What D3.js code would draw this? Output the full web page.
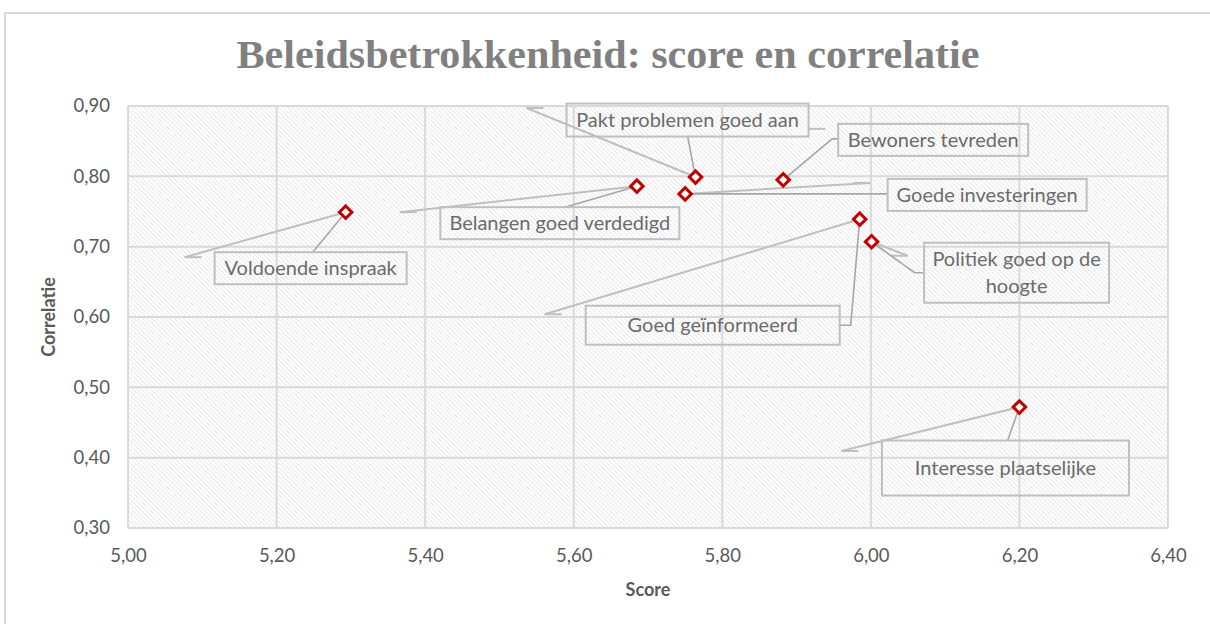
<!DOCTYPE html>
<html>
<head>
<meta charset="utf-8">
<script src="https://cdn.jsdelivr.net/npm/d3@7"></script>
<style>
  html, body { margin: 0; padding: 0; background: #fff; }
  svg { display: block; }
</style>
</head>
<body>
<svg id="chart" width="1210" height="624"></svg>
<script>
// Indicator names, scores and correlations
const names = [
  "Voldoende inspraak",
  "Belangen goed verdedigd",
  "Goede investeringen",
  "Pakt problemen goed aan",
  "Bewoners tevreden",
  "Goed geïnformeerd",
  "Politiek goed op de hoogte",
  "Interesse plaatselijke"
];
const scores       = [5.293, 5.685, 5.750, 5.764, 5.882, 5.985, 6.001, 6.200];
const correlations = [0.749, 0.786, 0.775, 0.799, 0.795, 0.739, 0.707, 0.472];

const xTicks = [5.0, 5.2, 5.4, 5.6, 5.8, 6.0, 6.2, 6.4];
const yTicks = [0.3, 0.4, 0.5, 0.6, 0.7, 0.8, 0.9];

// Label placement (pixel offsets from each marker): box centre, box size,
// leader route and the stray callout stub left behind by the label editor.
const labelLayout = [
  { box: [-35, 56],  size: [192, 32], lines: ["Voldoende inspraak"], leader: [[-33, 40]], stub: [-161, 45], stubDir: 1 },
  { box: [-77, 37],  size: [239, 32], lines: ["Belangen goed verdedigd"], leader: [[-72, 21]], stub: [-237, 26], stubDir: 1 },
  { box: [302, 1],   size: [199, 32], lines: ["Goede investeringen"], leader: [[203, 0]], stub: [185, -11], stubDir: -1 },
  { box: [-8, -57],  size: [242, 33], lines: ["Pakt problemen goed aan"], leader: [[-8, -41]], stub: [-169, -69], stubDir: 1 },
  { box: [150, -40], size: [190, 32], lines: ["Bewoners tevreden"], leader: [[49, -41], [55, -41]], stub: [42, -51], stubDir: -1, stubOnly: true },
  { box: [-147, 106],size: [254, 39], lines: ["Goed geïnformeerd"], leader: [[-9, 106], [-20, 106]], stub: [-315, 95], stubDir: 1 },
  { box: [145, 31],  size: [185, 60], lines: ["Politiek goed op de", "hoogte"], leader: [[43, 31], [53, 31]], stub: [36, 14], stubDir: -1 },
  { box: [-14, 61],  size: [247, 55], lines: ["Interesse plaatselijke"], leader: [[-12, 34]], stub: [-178, 44], stubDir: 1 }
];

const svg = d3.select("#chart");
const W = 1210, H = 624;
const margin = { left: 128, right: 1210 - 1168, top: 106, bottom: 624 - 528 };

const fmt = v => d3.format(".2f")(v).replace(".", ",");

// Outer chart frame
svg.append("rect")
  .attr("x", 5).attr("y", 13)
  .attr("width", W + 10).attr("height", H + 10)
  .attr("fill", "#fff")
  .attr("stroke", "#d9d9d9").attr("stroke-width", 2);

// Diagonal hatch fill for the plot area
const defs = svg.append("defs");
const pat = defs.append("pattern")
  .attr("id", "hatch")
  .attr("patternUnits", "userSpaceOnUse")
  .attr("width", 4.5).attr("height", 4.5);
pat.append("rect").attr("width", 4.5).attr("height", 4.5).attr("fill", "#fff");
pat.append("path")
  .attr("d", "M-1,3.5 L1,5.5 M0,0 L4.5,4.5 M3.5,-1 L5.5,1")
  .attr("stroke", "#dcdcdc").attr("stroke-width", 0.9);

const x = d3.scaleLinear().domain([5.0, 6.4]).range([margin.left, W - margin.right]);
const y = d3.scaleLinear().domain([0.3, 0.9]).range([H - margin.bottom, margin.top]);

// Title
svg.append("text")
  .attr("x", 608).attr("y", 68)
  .attr("text-anchor", "middle")
  .attr("font-family", "'Liberation Serif', 'DejaVu Serif', serif")
  .attr("font-weight", "bold")
  .attr("font-size", 39)
  .attr("fill", "#808080")
  .attr("textLength", 743)
  .attr("lengthAdjust", "spacingAndGlyphs")
  .text("Beleidsbetrokkenheid: score en correlatie");

// Plot background
svg.append("rect")
  .attr("x", x(5.0)).attr("y", y(0.9))
  .attr("width", x(6.4) - x(5.0)).attr("height", y(0.3) - y(0.9))
  .attr("fill", "url(#hatch)");

// Gridlines
const grid = svg.append("g").attr("stroke", "#d9d9d9").attr("stroke-width", 2);
grid.selectAll(".gx").data(xTicks).join("line")
  .attr("x1", d => x(d)).attr("x2", d => x(d))
  .attr("y1", y(0.9)).attr("y2", y(0.3));
grid.selectAll(".gy").data(yTicks).join("line")
  .attr("x1", x(5.0)).attr("x2", x(6.4))
  .attr("y1", d => y(d)).attr("y2", d => y(d));

// Axes (labels only; lines come from the grid)
const tickFont = "Lato, 'Open Sans', sans-serif";
const xAxis = svg.append("g")
  .attr("transform", `translate(0,${y(0.3)})`)
  .call(d3.axisBottom(x).tickValues(xTicks).tickFormat(fmt).tickSize(0).tickPadding(21));
const yAxis = svg.append("g")
  .attr("transform", `translate(${x(5.0)},0)`)
  .call(d3.axisLeft(y).tickValues(yTicks).tickFormat(fmt).tickSize(0).tickPadding(18));
[xAxis, yAxis].forEach(a => {
  a.select(".domain").remove();
  a.selectAll("text")
    .attr("font-family", tickFont)
    .attr("font-size", 18.5)
    .attr("fill", "#595959");
});

// Axis titles
svg.append("text")
  .attr("x", (x(5.0) + x(6.4)) / 2).attr("y", 596)
  .attr("text-anchor", "middle")
  .attr("font-family", tickFont).attr("font-weight", "bold")
  .attr("font-size", 18).attr("fill", "#595959")
  .text("Score");
svg.append("text")
  .attr("transform", `translate(55,${(y(0.3) + y(0.9)) / 2}) rotate(-90)`)
  .attr("text-anchor", "middle")
  .attr("font-family", tickFont).attr("font-weight", "bold")
  .attr("font-size", 18).attr("fill", "#595959")
  .text("Correlatie");

// Callouts
const pts = names.map((n, i) => ({ name: n, sx: scores[i], sy: correlations[i], lay: labelLayout[i] }));
const lineColor = "#bfbfbf";
const callouts = svg.append("g");

pts.forEach(p => {
  const px = x(p.sx), py = y(p.sy), L = p.lay;
  const g = callouts.append("g");

  // Stray stub line
  const sx = px + L.stub[0], sy = py + L.stub[1];
  if (!L.stubOnly) {
    g.append("line")
      .attr("x1", px).attr("y1", py).attr("x2", sx).attr("y2", sy)
      .attr("stroke", lineColor).attr("stroke-width", 2);
  }
  g.append("line")
    .attr("x1", sx).attr("y1", sy).attr("x2", sx + 17 * L.stubDir).attr("y2", sy)
    .attr("stroke", lineColor).attr("stroke-width", 2);

  // Leader from marker to label box
  const route = [[px, py]].concat(L.leader.map(d => [px + d[0], py + d[1]]));
  g.append("path")
    .attr("d", d3.line()(route))
    .attr("fill", "none")
    .attr("stroke", "#a6a6a6").attr("stroke-width", 1.6);

  // Label box
  const bx = px + L.box[0], by = py + L.box[1];
  g.append("rect")
    .attr("x", bx - L.size[0] / 2).attr("y", by - L.size[1] / 2)
    .attr("width", L.size[0]).attr("height", L.size[1])
    .attr("fill", "none")
    .attr("stroke", lineColor).attr("stroke-width", 2);

  const lh = 27;
  L.lines.forEach((t, k) => {
    g.append("text")
      .attr("x", bx)
      .attr("y", by + (k - (L.lines.length - 1) / 2) * lh)
      .attr("dy", "0.35em")
      .attr("text-anchor", "middle")
      .attr("font-family", tickFont)
      .attr("font-size", 20)
      .attr("fill", "#6b6b6b")
      .text(t);
  });
});

// Markers: hollow red diamonds
svg.append("g").selectAll("path").data(pts).join("path")
  .attr("d", d3.symbol().type(d3.symbolSquare).size(78)())
  .attr("transform", d => `translate(${x(d.sx)},${y(d.sy)}) rotate(45)`)
  .attr("fill", "#fff")
  .attr("stroke", "#c00000")
  .attr("stroke-width", 3);
</script>
</body>
</html>
